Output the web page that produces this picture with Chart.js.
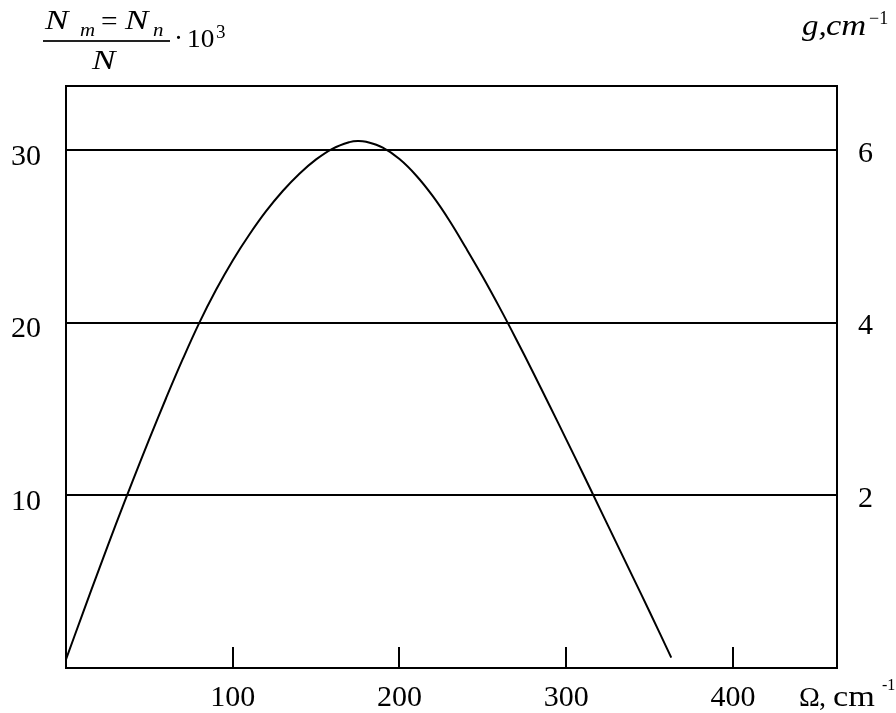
<!DOCTYPE html>
<html>
<head>
<meta charset="utf-8">
<script src="https://cdn.jsdelivr.net/npm/chart.js@4.4.1/dist/chart.umd.min.js"></script>
<style>
body { margin: 0; background: #fff; }
#wrap { position: relative; width: 896px; height: 713px; overflow: hidden; }
.t { position: absolute; font-family: "Liberation Serif", "Times New Roman", serif; color: #000; white-space: nowrap; transform-origin: 0 0; }
.bar { position: absolute; background: #222; height: 2px; }
</style>
</head>
<body>
<div id="wrap"><canvas id="c" width="896" height="713"></canvas></div>
<script>
// Omega, cm-1  vs  (Nm = Nn)/N * 10^3
let omega = [0, 10, 20, 30, 40, 50, 60, 70, 80, 90, 100, 110, 120, 130, 140, 150, 160, 170, 175,
             180, 190, 200, 210, 220, 230, 240, 250, 260, 270, 280, 290, 300, 310, 320, 330, 340, 350, 363]
let ratio = [0.5, 3.15, 5.77, 8.34, 10.84, 13.27, 15.62, 17.88, 20.0, 21.9, 23.6, 25.1, 26.45, 27.62, 28.62, 29.45, 30.08, 30.45, 30.52,
             30.47, 30.13, 29.47, 28.52, 27.32, 25.9, 24.3, 22.64, 20.88, 19.04, 17.14, 15.2, 13.24, 11.26, 9.26, 7.26, 5.26, 3.26, 0.6]

let xTicks = [100, 200, 300, 400]
let leftTicks = [10, 20, 30]
let rightTicks = [2, 4, 6]   // g, cm-1

let X_MAX = 462.4
let Y_MAX = 33.7
let G_PER_UNIT = 0.2         // right axis: 30 -> 6

const FONT = '"Liberation Serif", "Times New Roman", serif'

/* tick marks pointing into the plot + top edge of the frame */
const frame = {
    id: 'frame',
    afterDraw(chart) {
        const { ctx, chartArea, scales } = chart
        ctx.save()
        ctx.strokeStyle = '#000'
        ctx.lineWidth = 2
        ctx.beginPath()
        ctx.moveTo(chartArea.left - 1, chartArea.top)
        ctx.lineTo(chartArea.right + 1, chartArea.top)
        xTicks.forEach(v => {
            const px = Math.round(scales.x.getPixelForValue(v))
            ctx.moveTo(px, chartArea.bottom)
            ctx.lineTo(px, chartArea.bottom - 21)
        })
        ctx.stroke()
        ctx.restore()
    }
}

new Chart('c', {
    type: 'line',
    data: {
        datasets: [{
            data: omega.map((x, i) => ({ x: x, y: ratio[i] })),
            borderColor: '#000',
            borderWidth: 2,
            pointRadius: 0,
            fill: false,
            tension: 0.4,
            yAxisID: 'y'
        }]
    },
    options: {
        responsive: false,
        animation: false,
        devicePixelRatio: 1,
        layout: { padding: { top: 86, left: 11, right: 0, bottom: 0 } },
        plugins: { legend: { display: false }, tooltip: { enabled: false } },
        scales: {
            x: {
                type: 'linear', min: 0, max: X_MAX,
                afterBuildTicks: s => { s.ticks = xTicks.map(v => ({ value: v })) },
                afterFit: s => { s.height = 45 },
                grid: { display: false, drawTicks: false },
                border: { display: true, color: '#000', width: 2 },
                ticks: { color: '#000', font: { family: FONT, size: 30 }, padding: 12, maxRotation: 0 }
            },
            y: {
                type: 'linear', position: 'left', min: 0, max: Y_MAX,
                afterBuildTicks: s => { s.ticks = leftTicks.map(v => ({ value: v })) },
                afterFit: s => { s.width = 55 },
                grid: { color: '#000', lineWidth: 2, drawTicks: false },
                border: { display: true, color: '#000', width: 2 },
                ticks: { color: '#000', font: { family: FONT, size: 30 }, crossAlign: 'far', labelOffset: 7 }
            },
            y2: {
                type: 'linear', position: 'right', min: 0, max: Y_MAX * G_PER_UNIT,
                afterBuildTicks: s => { s.ticks = rightTicks.map(v => ({ value: v })) },
                afterFit: s => { s.width = 59 },
                grid: { display: false, drawTicks: false },
                border: { display: true, color: '#000', width: 2 },
                ticks: { color: '#000', font: { family: FONT, size: 30 }, padding: 21, labelOffset: 4 }
            }
        }
    },
    plugins: [frame]
})

/* axis captions as real text, placed on their baselines */
const wrap = document.getElementById('wrap')
const put = (text, x, base, size, italic, sx) => {
    const d = document.createElement('div')
    d.className = 't'
    d.textContent = text
    d.style.left = x + 'px'
    d.style.top = (base - 0.8375 * size) + 'px'
    d.style.fontSize = size + 'px'
    d.style.lineHeight = size + 'px'
    if (italic) d.style.fontStyle = 'italic'
    if (sx) d.style.transform = 'scaleX(' + sx + ')'
    wrap.appendChild(d)
}

// (N_m = N_n) / N · 10^3
put('N', 45, 30, 27, true, 1.3)
put('m', 80, 36, 19, true, 1.1)
put('=', 101, 30, 28, false, 1.05)
put('N', 125, 30, 27, true, 1.3)
put('n', 153, 36, 19, true, 1.1)
const bar = document.createElement('div')
bar.className = 'bar'
bar.style.left = '43px'; bar.style.top = '40px'; bar.style.width = '127px'
wrap.appendChild(bar)
put('N', 92, 70, 27, true, 1.3)
put('·', 174, 48, 27, false)
put('10', 187, 48, 26, false, 1.05)
put('3', 216, 38, 19, false)

// g, cm^-1
put('g,', 802, 35, 30, true, 1.1)
put('cm', 826, 35, 30, true, 1.15)
put('−1', 869, 24, 18, false)

// Omega, cm^-1
put('Ω', 799, 706, 28, false)
put(',', 819, 706, 28, false)
put('cm', 833, 706, 29, false, 1.18)
put('-1', 882, 690, 16, false)
</script>
</body>
</html>
